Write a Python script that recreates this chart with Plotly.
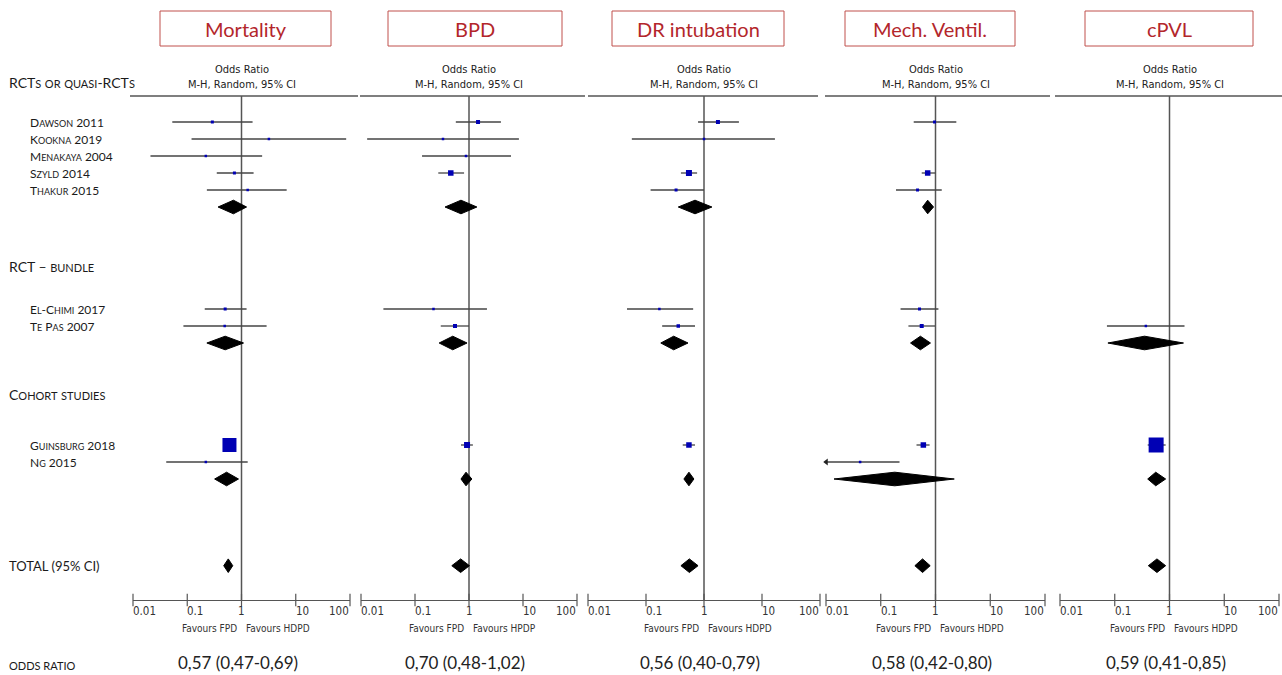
import itertools
import math
import plotly.graph_objects as go

W, H = 1282, 675

# ---------------- data ----------------
outcomes = ["Mortality", "BPD", "DR intubation", "Mech. Ventil.", "cPVL"]
studies = ["Dawson 2011", "Kookna 2019", "Menakaya 2004", "Szyld 2014", "Thakur 2015",
           "El-Chimi 2017", "Te Pas 2007", "Guinsburg 2018", "Ng 2015"]
groups = ["RCTs or quasi-RCTs", "RCT – bundle", "Cohort studies"]

# odds ratio, lower CI, upper CI, marker size (weight) per study (None = not reported)
mort_or = [0.29, 3.2, 0.22, 0.74, 1.3, 0.50, 0.49, 0.60, 0.22]
mort_lo = [0.053, 0.12, 0.021, 0.35, 0.23, 0.21, 0.085, 0.52, 0.041]
mort_hi = [1.6, 85, 2.4, 1.67, 6.8, 1.24, 2.9, 0.68, 1.3]
mort_w = [3, 2.5, 2.5, 3, 2.5, 3, 2.5, 14, 2.5]

bpd_or = [1.47, 0.33, 0.88, 0.46, None, 0.22, 0.55, 0.92, None]
bpd_lo = [0.57, 0.013, 0.135, 0.27, None, 0.026, 0.30, 0.71, None]
bpd_hi = [3.9, 8.4, 6.0, 0.81, None, 2.15, 1.0, 1.18, None]
bpd_w = [4, 2.5, 2.5, 5.5, None, 2.5, 4, 6, None]

dr_or = [1.74, 1.0, None, 0.55, 0.33, 0.17, 0.36, 0.55, None]
dr_lo = [0.79, 0.057, None, 0.40, 0.12, 0.047, 0.19, 0.43, None]
dr_hi = [4.0, 16.7, None, 0.76, 1.0, 0.65, 0.70, 0.70, None]
dr_w = [4, 2.5, None, 6, 3, 2.5, 3.5, 5.5, None]

mv_or = [0.96, None, None, 0.72, 0.47, 0.51, 0.56, 0.60, 0.042]
mv_lo = [0.40, None, None, 0.56, 0.19, 0.23, 0.32, 0.45, 0.005]
mv_hi = [2.4, None, None, 1.0, 1.3, 1.13, 0.98, 0.78, 0.22]
mv_w = [3, None, None, 5.5, 3, 3, 4, 5.5, 2.5]

pvl_or = [None, None, None, None, None, None, 0.37, 0.57, None]
pvl_lo = [None, None, None, None, None, None, 0.072, 0.40, None]
pvl_hi = [None, None, None, None, None, None, 1.88, 0.85, None]
pvl_w = [None, None, None, None, None, None, 2.5, 15, None]

# subgroup pooled estimates (RCTs, RCT-bundle, cohort)
mort_sub_or = [0.71, 0.50, 0.53]
mort_sub_lo = [0.37, 0.23, 0.32]
mort_sub_hi = [1.24, 1.09, 0.88]
bpd_sub_or = [0.71, 0.50, 0.88]
bpd_sub_lo = [0.36, 0.28, 0.71]
bpd_sub_hi = [1.40, 0.92, 1.13]
dr_sub_or = [0.70, 0.30, 0.55]
dr_sub_lo = [0.36, 0.18, 0.45]
dr_sub_hi = [1.37, 0.53, 0.67]
mv_sub_or = [0.72, 0.53, 0.18]
mv_sub_lo = [0.58, 0.35, 0.014]
mv_sub_hi = [0.92, 0.81, 2.2]
pvl_sub_or = [None, 0.35, 0.56]
pvl_sub_lo = [None, 0.075, 0.40]
pvl_sub_hi = [None, 1.8, 0.85]

# overall pooled estimates
total_or = [0.57, 0.70, 0.56, 0.58, 0.59]
total_lo = [0.47, 0.48, 0.40, 0.42, 0.41]
total_hi = [0.69, 1.02, 0.79, 0.80, 0.85]

tick_vals = [0.01, 0.1, 1, 10, 100]
tick_text = ["0.01", "0.1", "1", "10", "100"]
favours_left = ["Favours FPD"] * 5
favours_right = ["Favours HDPD", "Favours HPDP", "Favours HDPD", "Favours HDPD", "Favours HDPD"]

# ---------------- layout constants ----------------
study_rows = [0, 1, 2, 3, 4, 11, 12, 19, 20]
group_rows = [-2.3, 8.5, 16]
subgroup_rows = [5, 13, 21]
total_row = 26.1
header_row = -1.53
ROW0_PX, ROW_PX = 122, 17
axis_px = 600
axis_row = (axis_px - ROW0_PX) / ROW_PX
top_row = -ROW0_PX / ROW_PX

panel_px = [(133, 350), (361, 577), (588, 820), (826, 1045), (1060, 1279)]
topline_px = [(130, 358), (360, 585), (588, 818), (825, 1050), (1055, 1282)]
box_px = [(160, 331), (388, 562), (612, 784), (845, 1015), (1085, 1253)]
tick_anchor = ["left", "left", "center", "left", "right"]

COND = "Liberation Sans Narrow, DejaVu Sans Condensed, Open Sans, sans-serif"
CAL = "Lato, Open Sans, sans-serif"
DARK = "#333333"


def smallcaps(text, small):
    out = []
    for low, grp in itertools.groupby(text, key=lambda c: c.islower()):
        s = "".join(grp)
        if low:
            out.append(f"<span style='font-size:{small}px'>{s.upper()}</span>")
        else:
            out.append(s)
    return "".join(out)


def ypaper(px):
    return 1 - px / H


panels = [
    (mort_or, mort_lo, mort_hi, mort_w, mort_sub_or, mort_sub_lo, mort_sub_hi),
    (bpd_or, bpd_lo, bpd_hi, bpd_w, bpd_sub_or, bpd_sub_lo, bpd_sub_hi),
    (dr_or, dr_lo, dr_hi, dr_w, dr_sub_or, dr_sub_lo, dr_sub_hi),
    (mv_or, mv_lo, mv_hi, mv_w, mv_sub_or, mv_sub_lo, mv_sub_hi),
    (pvl_or, pvl_lo, pvl_hi, pvl_w, pvl_sub_or, pvl_sub_lo, pvl_sub_hi),
]

fig = go.Figure()
annotations = []
shapes = []
layout_axes = {}


def ann(**kw):
    kw.setdefault("showarrow", False)
    kw.setdefault("yanchor", "middle")
    kw.setdefault("xanchor", "center")
    annotations.append(kw)


for i, (ors, los, his, ws, sor, slo, shi) in enumerate(panels):
    xa = "x" if i == 0 else f"x{i+1}"
    xkey = "xaxis" if i == 0 else f"xaxis{i+1}"
    x0, x1 = panel_px[i]
    layout_axes[xkey] = dict(
        type="log", range=[-2, 2], domain=[x0 / W, x1 / W], anchor="y",
        showgrid=False, zeroline=False, showline=True, linecolor="#555", linewidth=1.2,
        ticks="", showticklabels=False, automargin=False, fixedrange=True,
    )

    # line of no effect
    fig.add_trace(go.Scatter(x=[1, 1], y=[header_row, axis_row], mode="lines",
                             line=dict(color="#555", width=1.5), xaxis=xa, yaxis="y",
                             hoverinfo="skip"))
    # CI lines
    cx, cy, ax_, ay_ = [], [], [], []
    px_, py_, ps_ = [], [], []
    for r, o, lo, hi, w in zip(study_rows, ors, los, his, ws):
        if o is None:
            continue
        cx += [max(lo, 0.01), min(hi, 100), None]
        cy += [r, r, None]
        if lo < 0.01:
            ax_.append(0.0101)
            ay_.append(r)
        px_.append(o)
        py_.append(r)
        ps_.append(w)
    fig.add_trace(go.Scatter(x=cx, y=cy, mode="lines", line=dict(color="#444", width=1.3),
                             xaxis=xa, yaxis="y", hoverinfo="skip"))
    if ax_:
        fig.add_trace(go.Scatter(x=ax_, y=ay_, mode="markers", cliponaxis=False,
                                 marker=dict(symbol="triangle-left", size=6, color="#222"),
                                 xaxis=xa, yaxis="y", hoverinfo="skip"))
    fig.add_trace(go.Scatter(x=px_, y=py_, mode="markers",
                             marker=dict(symbol="square", size=ps_, color="#0000B4",
                                         opacity=1, line=dict(width=0)),
                             xaxis=xa, yaxis="y", hoverinfo="skip"))
    # diamonds (subgroups + total)
    dx, dy = [], []
    hh = 0.4
    for r, c, lo, hi in zip(subgroup_rows + [total_row], sor + [total_or[i]],
                            slo + [total_lo[i]], shi + [total_hi[i]]):
        if c is None:
            continue
        dx += [lo, c, hi, c, lo, None]
        dy += [r, r - hh, r, r + hh, r, None]
    fig.add_trace(go.Scatter(x=dx, y=dy, mode="lines", fill="toself", fillcolor="#000",
                             line=dict(color="#000", width=1), xaxis=xa, yaxis="y",
                             hoverinfo="skip"))
    # axis tick marks (crossing the axis line)
    fig.add_trace(go.Scatter(x=tick_vals, y=[axis_row] * len(tick_vals), mode="markers",
                             cliponaxis=False,
                             marker=dict(symbol="line-ns", size=9,
                                         line=dict(width=1.2, color="#555")),
                             xaxis=xa, yaxis="y", hoverinfo="skip"))
    # tick labels
    for v, t, anc in zip(tick_vals, tick_text, tick_anchor):
        ann(xref=xa, yref="paper", x=math.log10(v), y=ypaper(611), text=t, xanchor=anc,
            xshift=-2 if anc == "left" else (1 if anc == "right" else 0),
            font=dict(family=COND, size=11.5, color=DARK))

    # header lines
    t0, t1 = topline_px[i]
    shapes.append(dict(type="line", xref="paper", yref="y", x0=t0 / W, x1=t1 / W,
                       y0=header_row, y1=header_row, line=dict(color="#555", width=1.3)))
    # title box
    b0, b1 = box_px[i]
    shapes.append(dict(type="rect", xref="paper", yref="paper", x0=b0 / W, x1=b1 / W,
                       y0=ypaper(46), y1=ypaper(11), line=dict(color="#C0504D", width=1)))
    ann(xref="paper", yref="paper", x=(b0 + b1) / 2 / W, y=ypaper(28.5), text=outcomes[i],
        font=dict(family=CAL, size=20, color="#B3262B"))
    # column headers
    ann(xref=xa, yref="y", x=0, y=-3.06, text="Odds Ratio",
        font=dict(family=COND, size=11, color="#222"))
    ann(xref=xa, yref="y", x=0, y=-2.18, text="M-H, Random, 95% CI",
        font=dict(family=COND, size=11, color="#222"))
    # favours labels
    ann(xref=xa, yref="paper", x=0, y=ypaper(628), text=favours_left[i], xanchor="right",
        xshift=-3, font=dict(family=COND, size=10, color=DARK))
    ann(xref=xa, yref="paper", x=0, y=ypaper(628), text=favours_right[i], xanchor="left",
        xshift=2, font=dict(family=COND, size=10, color=DARK))
    # pooled OR text
    txt = (f"{total_or[i]:.2f} ({total_lo[i]:.2f}-{total_hi[i]:.2f})").replace(".", ",")
    ann(xref=xa, yref="paper", x=0, y=ypaper(662), text=txt, xshift=-4,
        font=dict(family=CAL, size=17, color="#222"))

# study labels
for r, s in zip(study_rows, studies):
    ann(xref="paper", yref="y", x=28 / W, y=r, text=smallcaps(s, 9), xanchor="left",
        font=dict(family=CAL, size=12, color="#1a1a1a"))
for r, g in zip(group_rows, groups):
    ann(xref="paper", yref="y", x=7 / W, y=r, text=smallcaps(g, 11), xanchor="left",
        font=dict(family=CAL, size=14, color="#1a1a1a"))
ann(xref="paper", yref="y", x=7 / W, y=total_row, text="TOTAL (95% CI)", xanchor="left",
    font=dict(family=CAL, size=13, color="#1a1a1a"))
ann(xref="paper", yref="paper", x=7 / W, y=ypaper(665), text="ODDS RATIO", xanchor="left",
    font=dict(family=CAL, size=11, color="#1a1a1a"))

fig.update_layout(
    width=W, height=H, margin=dict(l=0, r=0, t=0, b=0, autoexpand=False),
    paper_bgcolor="white", plot_bgcolor="white", showlegend=False,
    yaxis=dict(domain=[1 - axis_px / H, 1], range=[axis_row, top_row], visible=False,
               fixedrange=True, automargin=False),
    shapes=shapes, annotations=annotations, **layout_axes,
)

fig.write_html("out.html")
